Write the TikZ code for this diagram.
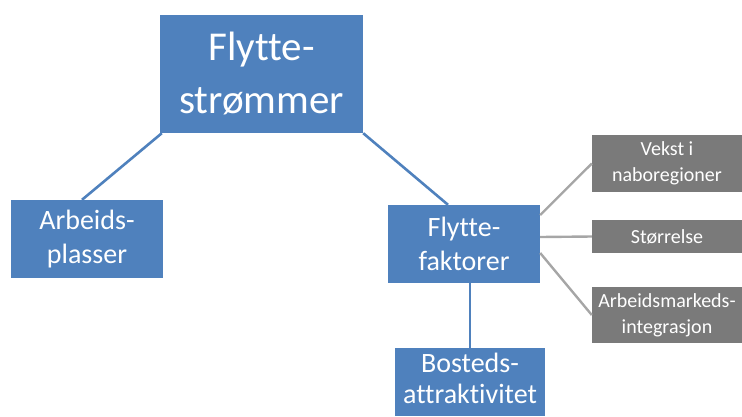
\documentclass[tikz,border=0pt]{standalone}
\usepackage{fontspec}
\setmainfont[Ligatures=NoCommon]{Carlito}
\definecolor{boxblue}{HTML}{4F81BD}
\definecolor{boxgray}{HTML}{7A7A7A}
\definecolor{linegray}{HTML}{A6A6A6}
\begin{document}
\begin{tikzpicture}[x=1pt,y=-1pt,
  bluebox/.style={fill=boxblue,text=white,align=center,inner sep=0pt,font=\fontsize{28}{34}\selectfont},
  graybox/.style={fill=boxgray,text=white,align=center,inner sep=0pt,minimum width=150pt,font=\fontsize{20}{26}\selectfont},
  blueline/.style={draw=boxblue,line width=2.6pt},
  grayline/.style={draw=linegray,line width=2.4pt}]
\useasboundingbox (0,0) rectangle (742,416);
\clip (0,0) rectangle (742,416);
\node[bluebox,minimum width=203pt,minimum height=118pt,font=\fontsize{41}{53}\selectfont] (top) at (261.5,74) {Flytte-\\strømmer};
\node[bluebox,minimum width=152pt,minimum height=78pt] (arb) at (87,239) {Arbeids-\\plasser};
\node[bluebox,minimum width=152pt,minimum height=78pt] (ff) at (464,244) {Flytte-\\faktorer};
\node[bluebox,minimum width=150pt,minimum height=68pt,font=\fontsize{28}{31}\selectfont] (bo) at (470,382)
  {\raisebox{5pt}{\begin{tabular}{@{}c@{}}Bosteds-\\attraktivitet\end{tabular}}};
\node[graybox,minimum height=57pt] (vekst) at (667,163.5) {Vekst i\\naboregioner};
\node[graybox,minimum height=33pt] (str) at (667,236.5) {Størrelse};
\node[graybox,minimum height=56pt] (ami) at (667,315) {Arbeidsmarkeds-\\integrasjon};
\draw[blueline] ([xshift=2pt]top.south west) -- ([xshift=-5pt]arb.north);
\draw[blueline] (top.south east) -- ([xshift=-16pt]ff.north);
\draw[blueline] ([xshift=6pt]ff.south) -- ([xshift=0pt]bo.north);
\draw[grayline] ([yshift=29pt]ff.east) -- (vekst.west);
\draw[grayline] ([yshift=7pt]ff.east) -- (str.west);
\draw[grayline] ([yshift=-9pt]ff.east) -- (ami.west);
\end{tikzpicture}
\end{document}
